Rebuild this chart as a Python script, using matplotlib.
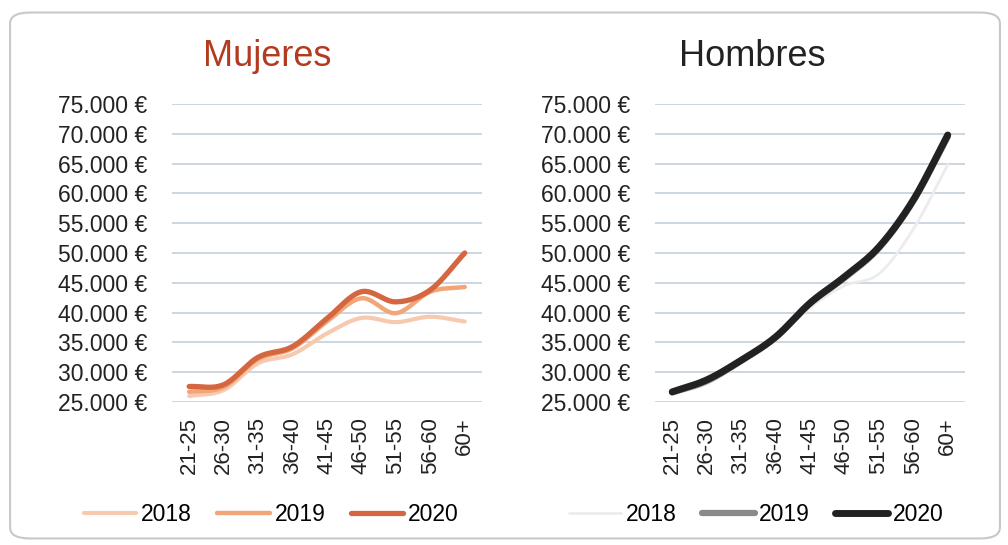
import numpy as np
import matplotlib
matplotlib.use("Agg")
import matplotlib.pyplot as plt
from matplotlib.patches import FancyBboxPatch

plt.rcParams['font.family'] = ['Liberation Sans', 'DejaVu Sans']

# datos
edades = ['21-25', '26-30', '31-35', '36-40', '41-45', '46-50', '51-55', '56-60', '60+']
anios = ['2018', '2019', '2020']

mujeres_2018 = [26000, 27000, 31500, 33000, 36500, 39100, 38400, 39300, 38500]
mujeres_2019 = [26700, 27500, 32200, 34000, 38500, 42400, 39900, 43500, 44300]
mujeres_2020 = [27600, 27900, 32500, 34300, 39000, 43500, 41800, 43800, 50000]

hombres_2018 = [26300, 28000, 31500, 35400, 40800, 44500, 46500, 54000, 64800]
hombres_2019 = [26600, 28500, 31900, 35800, 41500, 45800, 50800, 58700, 69500]
hombres_2020 = [26700, 28700, 32000, 35900, 41600, 46000, 51000, 58900, 69800]

y_ticks = [25000, 30000, 35000, 40000, 45000, 50000, 55000, 60000, 65000, 70000, 75000]

col_muj = ['#F7C9AE', '#F2A577', '#D4673F']
col_hom = ['#ECECEC', '#8A8A8A', '#222222']
lw_muj = [3.0, 3.2, 3.8]
lw_hom = [2.0, 4.5, 5.0]


def suave(y, n=20):
    # curva tipo Catmull-Rom (lineas suavizadas como en Excel)
    y = np.asarray(y, dtype=float)
    p = np.concatenate([[2 * y[0] - y[1]], y, [2 * y[-1] - y[-2]]])
    xs, ys = [], []
    for i in range(1, len(p) - 2):
        t = np.linspace(0, 1, n, endpoint=False)
        p0, p1, p2, p3 = p[i - 1], p[i], p[i + 1], p[i + 2]
        v = 0.5 * ((2 * p1) + (-p0 + p2) * t + (2 * p0 - 5 * p1 + 4 * p2 - p3) * t ** 2
                   + (-p0 + 3 * p1 - 3 * p2 + p3) * t ** 3)
        xs.extend(i - 1 + t)
        ys.extend(v)
    xs.append(len(y) - 1)
    ys.append(y[-1])
    return np.array(xs), np.array(ys)


def fmt(v, pos=None):
    return '{:,.0f} €'.format(v).replace(',', '.')


fig = plt.figure(figsize=(10.08, 5.45), dpi=100)
fig.patches.append(FancyBboxPatch((0.010, 0.012), 0.982, 0.965, boxstyle='round,pad=0,rounding_size=0.02',
                                  transform=fig.transFigure, facecolor='white', edgecolor='#C8C8C8',
                                  lw=1.5, zorder=-10))

paneles = [
    (0.1706, 0.265, 0.32, 'Mujeres', '#B23A1E', [mujeres_2018, mujeres_2019, mujeres_2020], col_muj, lw_muj),
    (0.6498, 0.746, 0.326, 'Hombres', '#222222', [hombres_2018, hombres_2019, hombres_2020], col_hom, lw_hom),
]

for x0, xt, xl, titulo, ctit, series, cols, lws in paneles:
    ax = fig.add_axes([x0, 0.2624, 0.3075, 0.5468])
    ax.set_facecolor('none')
    for s, c, w, lab in zip(series, cols, lws, anios):
        xs, ys = suave(s)
        ax.plot(xs, ys, color=c, lw=w, solid_capstyle='round', label=lab)
    ax.set_xlim(-0.5, len(edades) - 0.5)
    ax.set_ylim(25000, 75000)
    ax.set_yticks(y_ticks)
    ax.yaxis.set_major_formatter(plt.FuncFormatter(fmt))
    ax.set_xticks(range(len(edades)))
    ax.set_xticklabels(edades, rotation=90)
    ax.tick_params(length=0, labelsize=16.5, colors='#222222')
    ax.tick_params(axis='y', pad=18)
    ax.tick_params(axis='x', pad=11, labelsize=16)
    ax.grid(axis='y', color='#CDD6E0', lw=1.4)
    ax.set_axisbelow(True)
    for sp in ax.spines.values():
        sp.set_visible(False)
    fig.text(xt, 0.879, titulo, fontsize=26, color=ctit, ha='center', va='baseline')
    ax.legend(loc='center', bbox_to_anchor=(xl, -0.379), ncol=3, frameon=False,
              fontsize=16.5, handlelength=2.3, handletextpad=0.2, columnspacing=1.1)

fig.savefig('out.png', dpi=100)
